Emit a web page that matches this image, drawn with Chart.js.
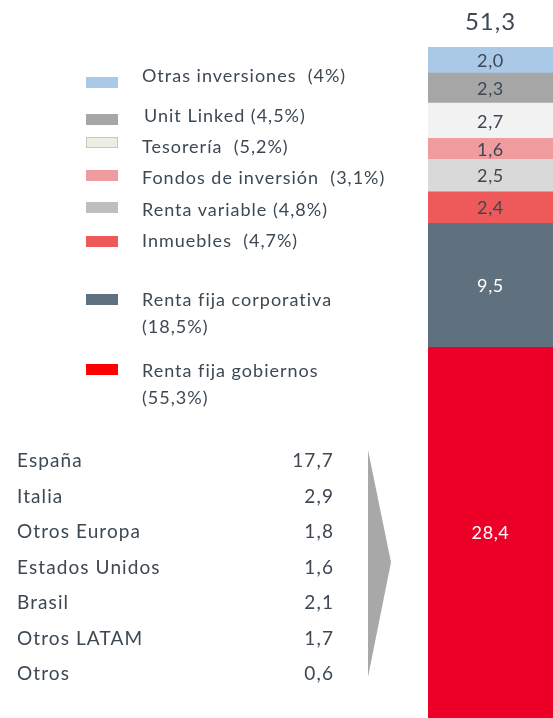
<!DOCTYPE html>
<html>
<head>
<meta charset="utf-8">
<script src="https://cdn.jsdelivr.net/npm/chart.js"></script>
<style>
  html, body { margin: 0; padding: 0; background: #fff; }
  #wrap { position: relative; width: 553px; height: 718px; overflow: hidden; font-family: Lato, sans-serif; color: #3d4852; }
  #chart { position: absolute; left: 0; top: 0; }
  .leg { position: absolute; left: 142px; font-size: 18px; line-height: 27px; white-space: pre; letter-spacing: 1px; }
  .sw { position: absolute; left: 86px; width: 32px; height: 11px; box-sizing: border-box; }
  .row { position: absolute; left: 17px; width: 317px; font-size: 19px; line-height: 24px; letter-spacing: 1.1px; }
  .row span { position: absolute; right: 0; }
  #arrow { position: absolute; left: 368px; top: 450px; width: 23px; height: 227px; background: #a8a8a8;
           clip-path: polygon(0 0, 100% 49.5%, 0 100%); }
</style>
</head>
<body>
<div id="wrap">
  <canvas id="chart" width="553" height="718"></canvas>
  <div id="legend"></div>
  <div id="table"></div>
  <div id="arrow"></div>
</div>
<script>
// Investment breakdown, bottom to top of the stack
const categories = ['Renta fija gobiernos', 'Renta fija corporativa', 'Inmuebles', 'Renta variable',
                    'Fondos de inversión', 'Tesorería', 'Unit Linked', 'Otras inversiones'];
const values = [28.4, 9.5, 2.4, 2.5, 1.6, 2.7, 2.3, 2.0];
const shares = ['55,3%', '18,5%', '4,7%', '4,8%', '3,1%', '5,2%', '4,5%', '4%'];
const total = 51.3;

// Government bonds by country
const countries = ['España', 'Italia', 'Otros Europa', 'Estados Unidos', 'Brasil', 'Otros LATAM', 'Otros'];
const countryValues = [17.7, 2.9, 1.8, 1.6, 2.1, 1.7, 0.6];

// colours (bar fill, legend swatch) and label colours
const barColors = ['#ec0028', '#5f717e', '#ee5a5a', '#d9d9d9', '#f09c9f', '#f2f2f2', '#a6a6a6', '#a9c9e7'];
const swatchColors = ['#ff0000', '#5f717e', '#ee5a5a', '#bfbfbf', '#f09c9f', '#eeede3', '#a6a6a6', '#a9c9e7'];
const labelColors = ['#ffffff', '#ffffff', '#3d4852', '#3d4852', '#3d4852', '#3d4852', '#3d4852', '#3d4852'];

// legend layout: text top(s), swatch top, gap before the share
const legendLayout = [
    { text: [357, 384], sw: 364 },
    { text: [286, 313], sw: 294 },
    { text: [227], sw: 236, gap: '  ' },
    { text: [196], sw: 202 },
    { text: [164], sw: 170, gap: '  ' },
    { text: [133], sw: 137, gap: '  ' },
    { text: [102], sw: 114, indent: 2 },
    { text: [62], sw: 77, gap: '  ' }
];

const fmt = v => v.toFixed(1).replace('.', ',');

// Build legend
const legend = document.getElementById('legend');
categories.forEach((name, i) => {
    const lay = legendLayout[i];
    const sw = document.createElement('div');
    sw.className = 'sw';
    sw.style.top = lay.sw + 'px';
    sw.style.background = swatchColors[i];
    if (i === 5) sw.style.border = '1px solid #c8c8c0';
    legend.appendChild(sw);
    const lines = lay.text.length > 1 ? [name, '(' + shares[i] + ')'] : [name + (lay.gap || ' ') + '(' + shares[i] + ')'];
    lines.forEach((line, j) => {
        const t = document.createElement('div');
        t.className = 'leg';
        t.style.top = lay.text[j] + 'px';
        if (lay.indent) t.style.left = (142 + lay.indent) + 'px';
        t.textContent = line;
        legend.appendChild(t);
    });
});

// Build country table
const table = document.getElementById('table');
countries.forEach((c, i) => {
    const r = document.createElement('div');
    r.className = 'row';
    r.style.top = (448 + i * 35.5) + 'px';
    r.innerHTML = c + '<span>' + fmt(countryValues[i]) + '</span>';
    table.appendChild(r);
});

// Value labels inside segments and total above the bar
const labelPlugin = {
    id: 'segmentLabels',
    afterDatasetsDraw(chart) {
        const ctx = chart.ctx;
        ctx.save();
        ctx.textAlign = 'center';
        ctx.textBaseline = 'middle';
        ctx.font = '18px Lato, sans-serif';
        ctx.letterSpacing = '0.6px';
        let topY = null, cx = 0;
        chart.data.datasets.forEach((ds, i) => {
            const bar = chart.getDatasetMeta(i).data[0];
            const y = (bar.y + bar.base) / 2;
            ctx.fillStyle = labelColors[i];
            ctx.fillText(fmt(ds.data[0]), bar.x, y + 1);
            cx = bar.x;
            topY = topY === null ? bar.y : Math.min(topY, bar.y);
        });
        ctx.fillStyle = '#3d4852';
        ctx.font = '24px Lato, sans-serif';
        ctx.letterSpacing = '1px';
        ctx.fillText(fmt(total), cx, topY - 25);
        ctx.restore();
    }
};

new Chart(document.getElementById('chart'), {
    type: 'bar',
    data: {
        labels: ['Total'],
        datasets: categories.map((name, i) => ({
            label: name,
            data: [values[i]],
            backgroundColor: barColors[i],
            borderWidth: 0,
            barPercentage: 1,
            categoryPercentage: 1
        }))
    },
    options: {
        responsive: false,
        animation: false,
        layout: { padding: { left: 428, top: 47, right: 0, bottom: 0 } },
        scales: {
            x: { stacked: true, display: false },
            y: { stacked: true, display: false, min: 0, max: values.reduce((a, b) => a + b, 0) }
        },
        plugins: { legend: { display: false }, tooltip: { enabled: false } }
    },
    plugins: [labelPlugin]
});
</script>
</body>
</html>
